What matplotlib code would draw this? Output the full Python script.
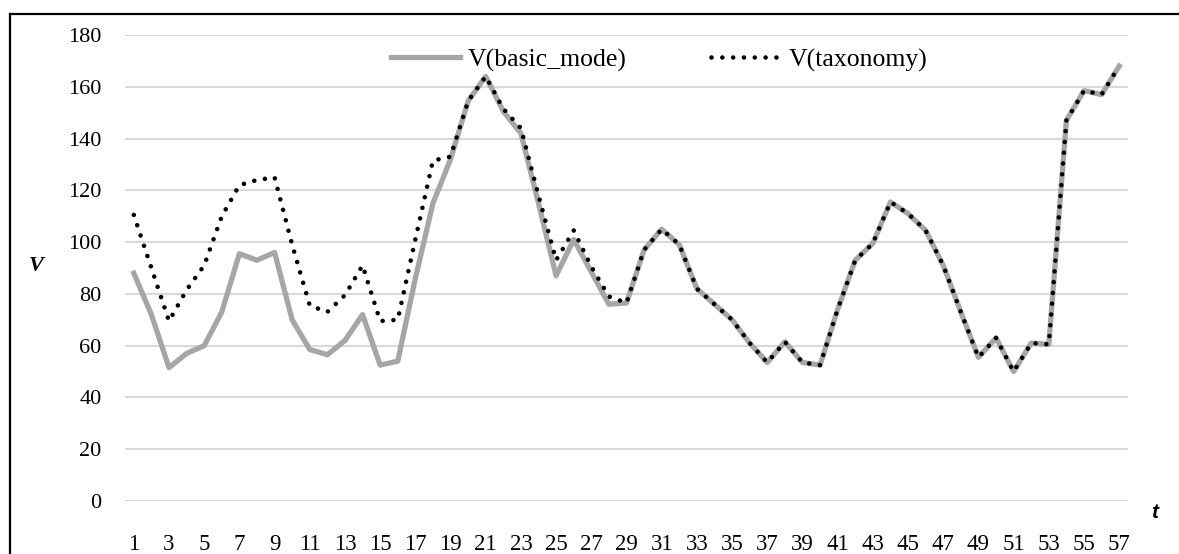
"""Line chart: V(basic_mode) vs V(taxonomy) over t"""
import matplotlib

matplotlib.use("Agg")
from matplotlib import pyplot as plt
from matplotlib.lines import Line2D

# t = 1 .. 57
t_values = list(range(1, 58))

v_basic_mode = [
    88, 72, 51.5, 57, 60, 73, 95.5, 93, 96, 70,
    58.5, 56.5, 62, 72, 52.5, 54, 86, 115, 132, 154.5,
    164, 150.5, 142, 115, 87, 101, 88.5, 76, 76.5, 97,
    105, 99, 82, 76, 70, 61, 53.5, 61.5, 53.5, 52.5,
    74, 93, 99.5, 115.5, 111, 104.5, 91, 73, 55.5, 63,
    50, 61, 60.5, 147, 158.5, 157, 168,
]

v_taxonomy = [
    110.5, 90, 69.5, 81.5, 91, 110, 122, 124, 125, 99,
    75.5, 73, 79.5, 91, 69.5, 70, 101, 131.5, 133, 154.5,
    164, 151.5, 144, 118, 93, 104.5, 90.5, 79, 76.5, 97,
    105, 99, 82, 76, 70, 61, 53.5, 61.5, 53.5, 52.5,
    74, 93, 99.5, 115.5, 111, 104.5, 91, 73, 55.5, 63,
    50, 61, 60.5, 147, 158.5, 157, 168,
]

y_ticks = list(range(0, 181, 20))
x_tick_labels = list(range(1, 58, 2))

W, H = 1179, 554
fig = plt.figure(figsize=(W / 100, H / 100), dpi=100)
fig.patch.set_facecolor("white")

# plot area in pixel coordinates of the reference
left, right, top, bottom = 125, 1128, 35, 501
ax = fig.add_axes([left / W, 1 - bottom / H, (right - left) / W, (bottom - top) / H])

ax.plot(
    t_values, v_basic_mode, color="#a6a6a6", linewidth=3.8,
    solid_joinstyle="round", label="V(basic_mode)", zorder=3,
)
ax.plot(
    t_values, v_taxonomy, color="black", linewidth=3.3,
    linestyle=(0, (0.01, 2.35)), dash_capstyle="round",
    label="V(taxonomy)", zorder=4,
)

ax.set_xlim(0.5, 57.5)
ax.set_ylim(0, 180)
ax.set_yticks(y_ticks)
ax.set_xticks(x_tick_labels)
ax.yaxis.grid(True, color="#d9d9d9", linewidth=1.5)
ax.set_axisbelow(True)
for spine in ax.spines.values():
    spine.set_visible(False)

tick_font = {"family": "Liberation Serif", "size": 16}
ax.set_yticklabels([str(v) for v in y_ticks], fontdict=tick_font)
ax.set_xticklabels([str(v) for v in x_tick_labels], fontdict={"family": "Liberation Serif", "size": 16.5})
ax.tick_params(axis="y", length=0, pad=17)
ax.tick_params(axis="x", length=0, pad=24)

# axis titles
fig.text(36 / W, 1 - 266 / H, "V", family="Liberation Serif", style="italic",
         weight="bold", fontsize=16, ha="center", va="center")
fig.text(1155 / W, 1 - 513 / H, "t", family="Liberation Sans", style="italic",
         weight="bold", fontsize=15, ha="center", va="center")

fig.legend(
    loc="center", bbox_to_anchor=(659 / W, 1 - 60 / H), ncol=2, frameon=False,
    prop={"family": "Liberation Serif", "size": 18.5},
    handlelength=2.7, handletextpad=0.3, columnspacing=3.3,
)

# outer frame (left and top edges visible)
fig.add_artist(Line2D([10 / W, 10 / W], [0, 1 - 14 / H], color="black", linewidth=1.6))
fig.add_artist(Line2D([10 / W, 1], [1 - 14 / H, 1 - 14 / H], color="black", linewidth=1.6))

fig.savefig("out.png", dpi=100)
